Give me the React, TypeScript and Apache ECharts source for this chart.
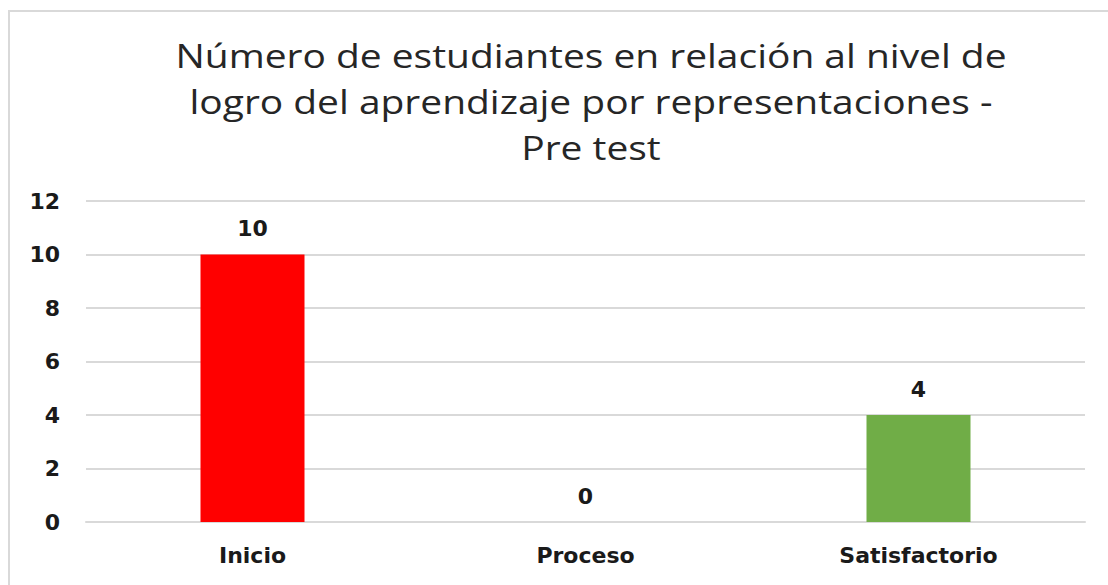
import React, { useEffect, useRef } from "react";
import * as echarts from "echarts";

const categories = ["Inicio", "Proceso", "Satisfactorio"];
const values = [10, 0, 4];
const barColors = ["#FF0000", "#4472C4", "#70AD47"];
const titleLines = [
  "Número de estudiantes en relación al nivel de",
  "logro del aprendizaje por representaciones -",
  "Pre test",
];

const labelFont = {
  color: "#1a1a1a",
  fontFamily: "'DejaVu Sans'",
  fontWeight: "bold" as const,
  fontSize: 22,
};

export default function App() {
  const ref = useRef<HTMLDivElement>(null);
  useEffect(() => {
    if (!ref.current) return;
    const chart = echarts.init(ref.current, null, { renderer: "svg" });
    chart.setOption({
      animation: false,
      backgroundColor: "#ffffff",
      graphic: [
        {
          type: "rect",
          shape: { x: 9, y: 11, width: 1200, height: 700 },
          style: { fill: "none", stroke: "#d9d9d9", lineWidth: 2 },
          silent: true,
        },
        {
          type: "text",
          x: 591,
          y: 32,
          scaleX: 1.18,
          style: {
            text: titleLines.join("\n"),
            font: "33px 'Open Sans'",
            fill: "#262626",
            align: "center",
            verticalAlign: "top",
            lineHeight: 46,
          },
        },
      ],
      grid: { left: 86, right: 23, top: 201, bottom: 63 },
      xAxis: {
        type: "category",
        data: categories,
        axisLine: { show: true, lineStyle: { color: "#d9d9d9", width: 2 } },
        axisTick: { show: false },
        axisLabel: { margin: 22, ...labelFont },
      },
      yAxis: {
        type: "value",
        min: 0,
        max: 12,
        interval: 2,
        axisLine: { show: false },
        axisTick: { show: false },
        splitLine: { lineStyle: { color: "#d9d9d9", width: 2 } },
        axisLabel: { margin: 26, ...labelFont },
      },
      series: [
        {
          type: "bar",
          barWidth: 104,
          data: values.map((v, i) => ({ value: v, itemStyle: { color: barColors[i] } })),
          label: {
            show: true,
            position: "top",
            distance: 15,
            ...labelFont,
          },
        },
      ],
    });
    return () => chart.dispose();
  }, []);
  return (
    <div
      ref={ref}
      style={{ position: "fixed", left: 0, top: 0, width: 1108, height: 585 }}
    />
  );
}
